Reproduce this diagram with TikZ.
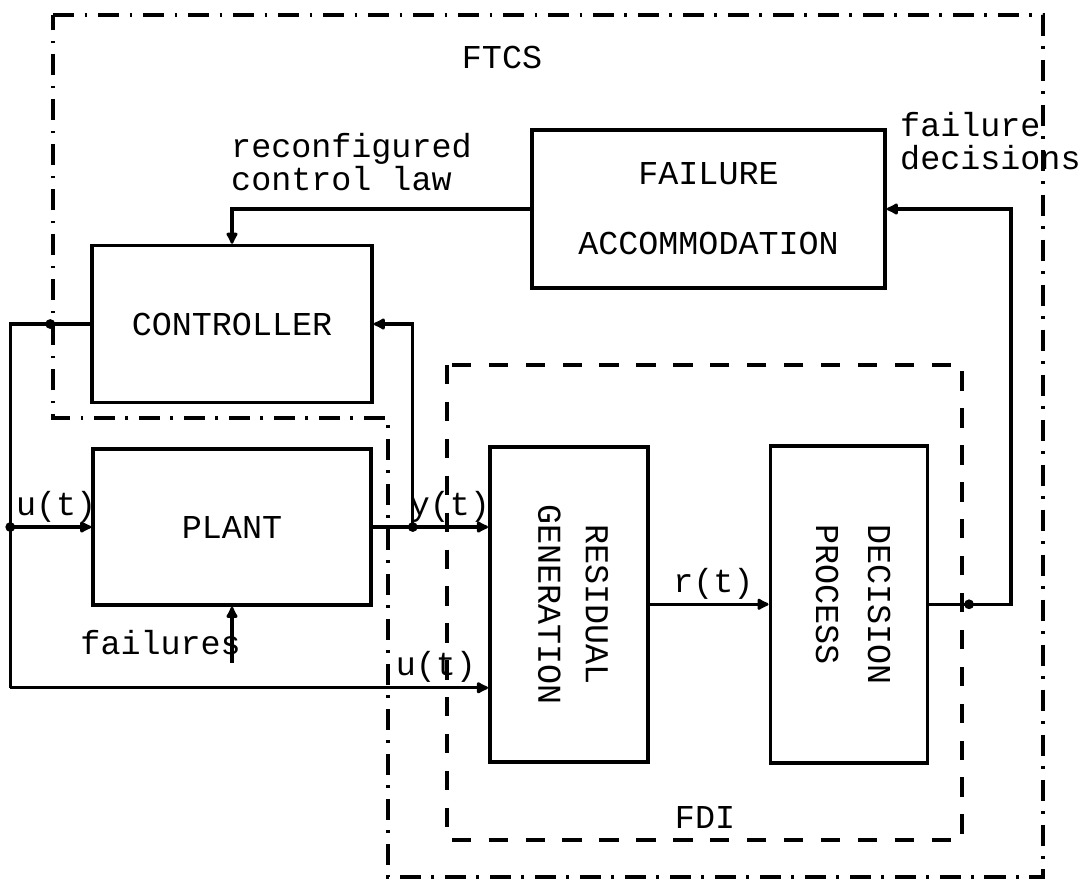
\documentclass[tikz,border=0pt]{standalone}
\usepackage{fontspec}
\usepackage{tikz}
\usetikzlibrary{arrows.meta, positioning, calc}
\newfontfamily\courfont{Liberation Mono}
\tikzset{
  block/.style={rectangle,draw=black,line width=1pt,inner sep=0pt,align=center,
    font=\courfont\fontsize{9.5}{9.5}\selectfont},
  arrow/.style={-{Latex[length=4pt,width=4pt,round]},line width=0.9pt},
  line/.style={line width=0.9pt},
  dot/.style={circle,fill=black,inner sep=0pt,minimum size=2.8pt},
  lbl/.style={font=\courfont\fontsize{9.5}{9.5}\selectfont,inner sep=1pt,align=left},
  ftcsline/.style={line width=0.9pt,dash pattern=on 6pt off 3pt on 0.8pt off 3pt},
  fdiline/.style={line width=0.9pt,dash pattern=on 5.5pt off 5pt}
}

\begin{document}
\begin{tikzpicture}
  \useasboundingbox (0,0) rectangle (10.81,-8.82);
  % outer and inner frames
  \draw[ftcsline] (0.53,-0.15) -- (10.43,-0.15) -- (10.43,-8.77) -- (3.88,-8.77)
    -- (3.88,-4.18) -- (0.53,-4.18) -- cycle;
  \draw[fdiline] (4.47,-3.65) rectangle (9.62,-8.40);
  \node[lbl] (ftcs) at (5.02,-0.57) {FTCS};
  \node[lbl] (fdi) at (7.05,-8.17) {FDI};

  % blocks
  \node[block, minimum width=2.80cm, minimum height=1.57cm] (ctrl) at (2.32,-3.24) {CONTROLLER};
  \node[block, minimum width=2.78cm, minimum height=1.56cm, below=0.43cm of ctrl] (plant) {PLANT};
  \node[block, minimum width=3.53cm, minimum height=1.58cm] (fa) at (7.085,-2.09)
    {FAILURE\\[10.5pt]ACCOMMODATION};
  \node[block, minimum width=1.58cm, minimum height=3.15cm, anchor=north west] (rg) at (4.88,-4.45)
    {\rotatebox{-90}{\begin{tabular}{@{}c@{}}RESIDUAL\\[4pt]GENERATION\end{tabular}}};
  \node[block, minimum width=1.57cm, minimum height=3.17cm, right=1.19cm of rg] (dp)
    {\rotatebox{-90}{\begin{tabular}{@{}l@{}}DECISION\\[5.3pt]PROCESS\end{tabular}}};

  % signals
  \coordinate[left=0.80cm of ctrl.west] (cl);
  \coordinate (ju) at (cl |- plant.west);
  \coordinate (ub) at ($(cl |- plant.south)+(0,-0.81)$);
  \coordinate[right=0.40cm of plant.east] (jy);
  \coordinate[below=0.56cm of plant.south] (fl);

  \draw[arrow] (fa.west) -| (ctrl.north);
  \node[lbl, anchor=west] (rcl) at (2.27,-1.62) {reconfigured\\control law};
  \draw[line] (ctrl.west) -- (cl) -- (ub);
  \draw[arrow] (ju) -- node[lbl, pos=1, above left, xshift=0.1cm] {u(t)} (plant.west);
  \draw[arrow] (ub) -- node[lbl, pos=1, above left, xshift=-0.07cm] {u(t)} (rg.west |- ub);
  \draw[arrow] (plant.east) -- node[lbl, pos=1, above left, xshift=0.07cm] {y(t)} (rg.west |- plant.east);
  \draw[arrow] (jy) |- (ctrl.east);
  \draw[arrow] (rg.east) -- node[lbl, pos=1, above left, xshift=-0.1cm] {r(t)} (dp.west);
  \draw[arrow] (dp.east) -- ++(0.82,0) |- (fa.east);
  \node[lbl, anchor=west] (fdec) at (8.96,-1.41) {failure\\decisions};
  \draw[arrow] (fl) -- (plant.south);
  \node[lbl, anchor=east] (flab) at ($(fl)+(0.13,0.2)$) {failures};

  % junction dots
  \node[dot] (dju) at (ju) {};
  \node[dot] (djy) at (jy) {};
  \node[dot] (dxl) at ($(cl)+(0.40,0)$) {};
  \node[dot] (dxr) at ($(dp.east)+(0.40,0)$) {};
\end{tikzpicture}
\end{document}
